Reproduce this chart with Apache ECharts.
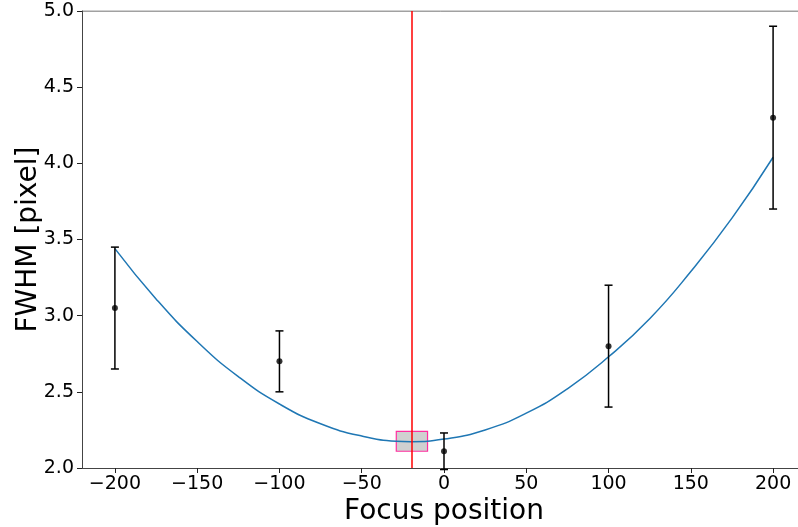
<!DOCTYPE html>
<html>
<head>
<meta charset="utf-8">
<script src="https://cdn.jsdelivr.net/npm/echarts@6/dist/echarts.min.js"></script>
<style>
  html, body { margin: 0; padding: 0; background: #fff; }
  #chart { width: 798px; height: 527px; }
</style>
</head>
<body>
<div id="chart"></div>
<script>
// measured points with error bars
const focusPos = [-200, -100, 0, 100, 200];
const fwhm = [3.05, 2.70, 2.11, 2.80, 4.30];
const fwhmErr = [0.40, 0.20, 0.12, 0.40, 0.60];

// fitted curve
const fitX = [-200, -175, -150, -125, -100, -75, -50, -25, -20, 0, 25, 50, 75, 100, 125, 150, 175, 200];
const fitY = [3.44, 3.11, 2.83, 2.60, 2.42, 2.29, 2.21, 2.174, 2.173, 2.19, 2.25, 2.36, 2.52, 2.73, 2.98, 3.29, 3.64, 4.04];

// best focus marker
const bestFocus = -19.5;
const boxX = [-29, -10];
const boxY = [2.11, 2.24];

const xTicks = [-200, -150, -100, -50, 0, 50, 100, 150, 200];

const fontFam = "DejaVu Sans";
const chart = echarts.init(document.getElementById("chart"));

const fmtMinus = (v) => String(v).replace("-", "\u2212");

const option = {
  animation: false,
  grid: { left: 82, right: -8, top: 11, bottom: 59, outerBoundsMode: "none", containLabel: false },
  xAxis: {
    type: "value",
    min: -220,
    max: 220,
    name: "Focus position",
    nameLocation: "middle",
    nameGap: 30,
    nameMoveOverlap: false,
    nameTextStyle: { fontFamily: fontFam, fontSize: 28, color: "#000" },
    axisLine: { show: true, onZero: false, lineStyle: { color: "#444", width: 1 } },
    axisTick: { show: true, length: 5, lineStyle: { color: "#222" },
      customValues: xTicks },
    axisLabel: { fontFamily: fontFam, fontSize: 19, color: "#000", margin: 7,
      customValues: xTicks, formatter: fmtMinus },
    splitLine: { show: false }
  },
  yAxis: {
    type: "value",
    min: 2.0,
    max: 5.0,
    interval: 0.5,
    name: "FWHM [pixel]",
    nameLocation: "middle",
    nameGap: 39,
    nameMoveOverlap: false,
    nameTextStyle: { fontFamily: fontFam, fontSize: 28, color: "#000" },
    axisLine: { show: true, onZero: false, lineStyle: { color: "#444", width: 1 } },
    axisTick: { show: true, length: 5, lineStyle: { color: "#222" } },
    axisLabel: { fontFamily: fontFam, fontSize: 19, color: "#000", margin: 8,
      formatter: (v) => v.toFixed(1) },
    splitLine: { show: false }
  },
  series: [
    {
      // top frame line
      type: "line",
      data: [[-220, 5.0], [220, 5.0]],
      symbol: "none",
      lineStyle: { color: "#444", width: 1 },
      silent: true,
      z: 1
    },
    {
      type: "line",
      data: fitX.map((x, i) => [x, fitY[i]]),
      smooth: true,
      symbol: "none",
      lineStyle: { color: "#1f77b4", width: 1.5 },
      z: 3,
      markArea: {
        silent: true,
        itemStyle: { color: "rgba(200,200,200,0.85)", borderColor: "#ff2fa0", borderWidth: 1.2 },
        data: [[{ coord: [boxX[0], boxY[0]] }, { coord: [boxX[1], boxY[1]] }]]
      },
      markLine: {
        silent: true,
        symbol: "none",
        label: { show: false },
        lineStyle: { color: "#ff0000", type: "solid", width: 1.5 },
        data: [{ xAxis: bestFocus }]
      }
    },
    {
      type: "custom",
      z: 4,
      data: focusPos.map((x, i) => [x, fwhm[i] - fwhmErr[i], fwhm[i] + fwhmErr[i]]),
      renderItem: function (params, api) {
        const lo = api.coord([api.value(0), api.value(1)]);
        const hi = api.coord([api.value(0), api.value(2)]);
        const cap = 4;
        const st = { stroke: "#000", lineWidth: 1.5 };
        return {
          type: "group",
          children: [
            { type: "line", shape: { x1: lo[0], y1: lo[1], x2: hi[0], y2: hi[1] }, style: st },
            { type: "line", shape: { x1: lo[0] - cap, y1: lo[1], x2: lo[0] + cap, y2: lo[1] }, style: st },
            { type: "line", shape: { x1: hi[0] - cap, y1: hi[1], x2: hi[0] + cap, y2: hi[1] }, style: st }
          ]
        };
      }
    },
    {
      type: "scatter",
      data: focusPos.map((x, i) => [x, fwhm[i]]),
      symbol: "circle",
      symbolSize: 6,
      itemStyle: { color: "#000" },
      z: 5
    }
  ]
};

chart.setOption(option);
</script>
</body>
</html>
